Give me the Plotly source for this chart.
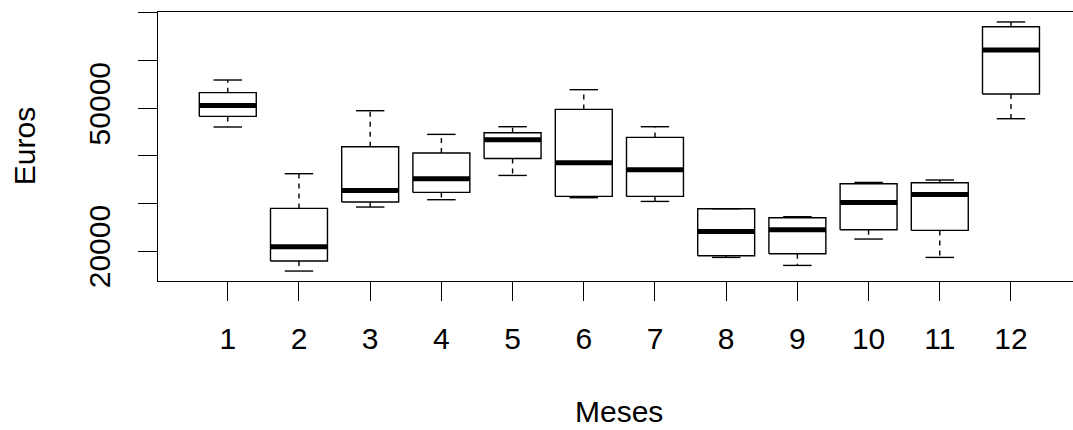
import plotly.graph_objects as go

# Monthly distribution of revenue (Euros): five-number summary per month
months = [1, 2, 3, 4, 5, 6, 7, 8, 9, 10, 11, 12]
lower_whisker = [46050, 15800, 29240, 30780, 35880, 31200, 30420, 18660, 16980, 22520, 18660, 47790]
q1 = [48280, 17900, 30290, 32310, 39450, 31470, 31470, 19010, 19430, 24470, 24330, 52980]
median = [50590, 20900, 32730, 35190, 43380, 38550, 37080, 24120, 24470, 30210, 31890, 62230]
q3 = [53260, 28950, 41910, 40590, 44850, 49750, 43870, 28890, 27000, 34140, 34350, 67120]
upper_whisker = [55920, 36240, 49470, 44500, 46110, 53890, 46110, 28890, 27210, 34410, 34920, 68110]

y_ticks = [20000, 30000, 40000, 50000, 60000, 70000]
y_tick_text = ["20000", "", "", "50000", "", ""]

BOX_HALF = 0.4      # box width 0.8
STAPLE_HALF = 0.2   # staple is half the box width
FONT = "Liberation Sans, Arial, Helvetica, sans-serif"
LW = 1.4

box_x, box_y = [], []
med_x, med_y = [], []
wh_x, wh_y = [], []
st_x, st_y = [], []
for m, lw, a, md, b, uw in zip(months, lower_whisker, q1, median, q3, upper_whisker):
    box_x += [m - BOX_HALF, m + BOX_HALF, m + BOX_HALF, m - BOX_HALF, m - BOX_HALF, None]
    box_y += [a, a, b, b, a, None]
    med_x += [m - BOX_HALF, m + BOX_HALF, None]
    med_y += [md, md, None]
    wh_x += [m, m, None, m, m, None]
    wh_y += [b, uw, None, a, lw, None]
    st_x += [m - STAPLE_HALF, m + STAPLE_HALF, None, m - STAPLE_HALF, m + STAPLE_HALF, None]
    st_y += [uw, uw, None, lw, lw, None]

fig = go.Figure()
fig.add_trace(go.Scatter(x=wh_x, y=wh_y, mode="lines",
                         line=dict(color="black", width=LW, dash="5px,5px"),
                         hoverinfo="skip", showlegend=False))
fig.add_trace(go.Scatter(x=st_x, y=st_y, mode="lines",
                         line=dict(color="black", width=LW),
                         hoverinfo="skip", showlegend=False))
fig.add_trace(go.Scatter(x=box_x, y=box_y, mode="lines",
                         line=dict(color="black", width=LW),
                         hoverinfo="skip", showlegend=False))
fig.add_trace(go.Scatter(x=med_x, y=med_y, mode="lines",
                         line=dict(color="black", width=5),
                         hoverinfo="skip", showlegend=False))

# y limits: data range padded by 4% on each side
y_min = min(lower_whisker)
y_max = max(upper_whisker)
pad = 0.04 * (y_max - y_min)

fig.update_layout(
    width=1073, height=430,
    margin=dict(l=158, r=0, t=12, b=149),
    paper_bgcolor="white", plot_bgcolor="white",
    font=dict(family=FONT, size=30, color="black"),
    xaxis=dict(
        range=[0.02, 12.871],
        tickmode="array", tickvals=months, ticktext=[str(m) for m in months],
        ticks="outside", ticklen=19, tickwidth=LW, tickcolor="black",
        ticklabelstandoff=12,
        showline=True, linecolor="black", linewidth=LW, mirror=True,
        showgrid=False, zeroline=False,
        tickfont=dict(family=FONT, size=30, color="black"),
    ),
    yaxis=dict(
        range=[y_min - pad, y_max + pad],
        tickmode="array", tickvals=y_ticks, ticktext=y_tick_text,
        tickangle=-90,
        ticks="outside", ticklen=19, tickwidth=LW, tickcolor="black",
        ticklabelstandoff=16,
        showline=True, linecolor="black", linewidth=LW, mirror=False,
        showgrid=False, zeroline=False,
        tickfont=dict(family=FONT, size=30, color="black"),
    ),
    annotations=[
        dict(text="Meses", xref="paper", yref="paper", x=0.504, y=-0.484,
             xanchor="center", yanchor="middle", showarrow=False,
             font=dict(family=FONT, size=30, color="black")),
        dict(text="Euros", xref="paper", yref="paper", x=-0.1457, y=0.5,
             xanchor="center", yanchor="middle", textangle=-90, showarrow=False,
             font=dict(family=FONT, size=30, color="black")),
    ],
)

fig.write_html("out.html")
